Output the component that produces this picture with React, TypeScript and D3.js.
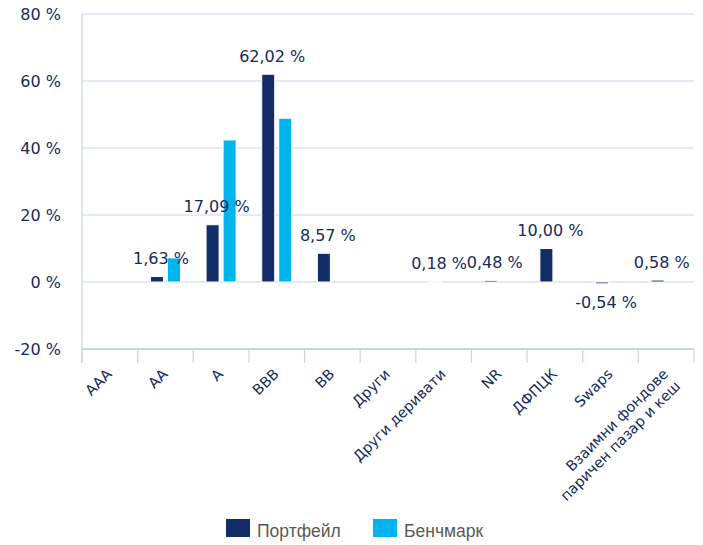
import React from 'react';
import * as d3 from 'd3';

// categories (multi-line labels split with \n)
const categories = [
  'AAA', 'AA', 'A', 'BBB', 'BB', 'Други', 'Други деривати', 'NR', 'ДФПЦК', 'Swaps',
  'Взаимни фондове\nпаричен пазар и кеш',
];
const portfolio: (number | null)[] = [null, 1.63, 17.09, 62.02, 8.57, null, 0.18, 0.48, 10.0, -0.54, 0.58];
const benchmark: (number | null)[] = [null, 7.2, 42.4, 48.9, null, null, null, null, null, null, null];
const yTicks = [-20, 0, 20, 40, 60, 80];
const seriesNames = ['Портфейл', 'Бенчмарк'];

const W = 703;
const H = 545;
const margin = { top: 14, right: 9, bottom: 196, left: 82 };
const NAVY = '#122d68';
const BLUE = '#00b4ec';
const TEXT = '#172b5a';
const GRID = '#c9d5e7';
const FONT = '"DejaVu Sans", Verdana, sans-serif';

const fmt = (v: number) => v.toFixed(2).replace('.', ',') + ' %';

export default function App() {
  const x = d3.scaleBand<string>()
    .domain(categories)
    .range([margin.left, W - margin.right])
    .paddingInner(0.46)
    .paddingOuter(0.23);
  const step = x.step();
  const xs = d3.scaleBand<string>()
    .domain(seriesNames)
    .range([0, x.bandwidth()])
    .paddingInner(0.235);
  const y = d3.scaleLinear().domain([-20, 80]).range([H - margin.bottom, margin.top]);

  const left = margin.left;
  const right = W - margin.right;
  const bottom = y(-20);
  const tickEdges = d3.range(categories.length + 1).map(i => left + i * step);

  const series = [
    { name: seriesNames[0], values: portfolio, color: NAVY },
    { name: seriesNames[1], values: benchmark, color: BLUE },
  ];

  return (
    <svg width={W} height={H} style={{ position: 'absolute', left: 0, top: 0, background: '#fff' }}>
      {/* grid */}
      {yTicks.map(t => (
        <line key={t} x1={left} x2={right} y1={y(t)} y2={y(t)} stroke={GRID}
          strokeWidth={t === -20 ? 2 : 1.2} />
      ))}
      <line x1={left} x2={left} y1={y(80)} y2={bottom + 14} stroke={GRID} strokeWidth={1.2} />
      {tickEdges.map((tx, i) => (
        <line key={i} x1={tx} x2={tx} y1={bottom} y2={bottom + 14} stroke={GRID} strokeWidth={1.2} />
      ))}

      {/* y labels */}
      {yTicks.map(t => (
        <text key={t} x={61} y={y(t)} dy="0.36em" textAnchor="end" fontFamily={FONT}
          fontSize={16} fill={TEXT}>{t} %</text>
      ))}

      {/* bars */}
      {series.map(s => (
        <g key={s.name} fill={s.color} stroke="#fff" strokeWidth={1}>
          {s.values.map((v, i) => v == null ? null : (
            <rect key={i}
              x={(x(categories[i]) ?? 0) + (xs(s.name) ?? 0)}
              y={y(Math.max(0, v))}
              width={xs.bandwidth()}
              height={Math.abs(y(v) - y(0))} />
          ))}
        </g>
      ))}

      {/* data labels for portfolio */}
      {portfolio.map((v, i) => {
        if (v == null) return null;
        const cx = (x(categories[i]) ?? 0) + (xs(seriesNames[0]) ?? 0) + xs.bandwidth() / 2 + 4;
        const ly = v >= 0 ? y(v) - 12.5 : y(v) + 24.5;
        return (
          <text key={i} x={cx} y={ly} textAnchor="middle" fontFamily={FONT} fontSize={16}
            fill={TEXT}>{fmt(v)}</text>
        );
      })}

      {/* category labels */}
      {categories.map((c, i) => {
        const cx = left + (i + 0.5) * step;
        const lines = c.split('\n');
        return (
          <text key={c} transform={`translate(${cx + 3},375) rotate(-45)`} textAnchor="end"
            fontFamily={FONT} fontSize={14.5} fill={TEXT}>
            {lines.map((l, j) => (
              <tspan key={j} x={0} y={j * 17}>{l}</tspan>
            ))}
          </text>
        );
      })}

      {/* legend */}
      {series.map((s, i) => {
        const lx = i === 0 ? 226 : 373;
        return (
          <g key={s.name}>
            <rect x={lx} y={519} width={24} height={18} fill={s.color} />
            <text x={lx + 31} y={537} fontFamily='"Liberation Sans", Arial, sans-serif'
              fontSize={17.5} fill="#595959">{s.name}</text>
          </g>
        );
      })}
    </svg>
  );
}
